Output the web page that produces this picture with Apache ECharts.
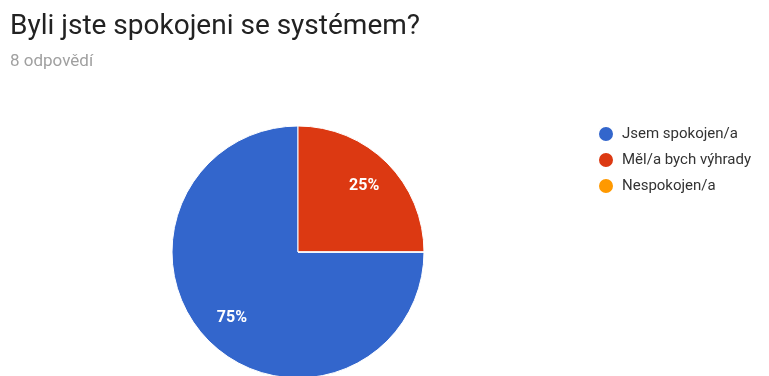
<!DOCTYPE html>
<html>
<head>
<meta charset="utf-8">
<script src="https://cdn.jsdelivr.net/npm/echarts@6/dist/echarts.min.js"></script>
<style>
  html, body { margin: 0; padding: 0; background: #fff; }
  #chart { width: 769px; height: 376px; }
</style>
</head>
<body>
<div id="chart"></div>
<script>
// odpovedi z dotazniku (8 celkem)
var categories = ['Jsem spokojen/a', 'Měl/a bych výhrady', 'Nespokojen/a'];
var counts = [6, 2, 0];
var colors = ['#3366cc', '#dc3912', '#ff9900'];

var pieData = categories.map(function (name, i) {
    var item = { name: name, value: counts[i], itemStyle: { color: colors[i] } };
    if (counts[i] === 0) item.label = { show: false };
    return item;
});

var chart = echarts.init(document.getElementById('chart'));
var option = {
    animation: false,
    title: {
        text: 'Byli jste spokojeni se systémem?',
        subtext: '8 odpovědí',
        left: 5,
        top: 8,
        itemGap: 12,
        textStyle: { fontFamily: 'Roboto', fontSize: 28, fontWeight: 'normal', color: '#222' },
        subtextStyle: { fontFamily: 'Roboto', fontSize: 17, color: '#a0a0a0' }
    },
    legend: {
        orient: 'vertical',
        left: 592,
        top: 120,
        icon: 'circle',
        itemWidth: 16,
        itemHeight: 16,
        itemGap: 8,
        data: categories,
        textStyle: { fontFamily: 'Roboto', fontSize: 15, color: '#333', padding: [0, 0, 0, 3] }
    },
    series: [
        {
            type: 'pie',
            center: [298, 252],
            radius: [0, 126],
            startAngle: 0,
            data: pieData,
            itemStyle: { borderColor: '#fff', borderWidth: 1 },
            label: { show: false },
            labelLine: { show: false }
        },
        {
            // pruhledna vrstva jen kvuli pozici popisku
            type: 'pie',
            silent: true,
            center: [298, 252],
            radius: [55, 126],
            startAngle: 0,
            data: pieData.map(function (d) {
                return { name: d.name, value: d.value, label: d.label };
            }),
            itemStyle: { color: 'transparent' },
            label: {
                show: true,
                position: 'inside',
                formatter: '{d}%',
                fontFamily: 'Roboto',
                fontSize: 16,
                fontWeight: 'bold',
                color: '#fff'
            },
            labelLine: { show: false }
        }
    ]
};
chart.setOption(option);
</script>
</body>
</html>
